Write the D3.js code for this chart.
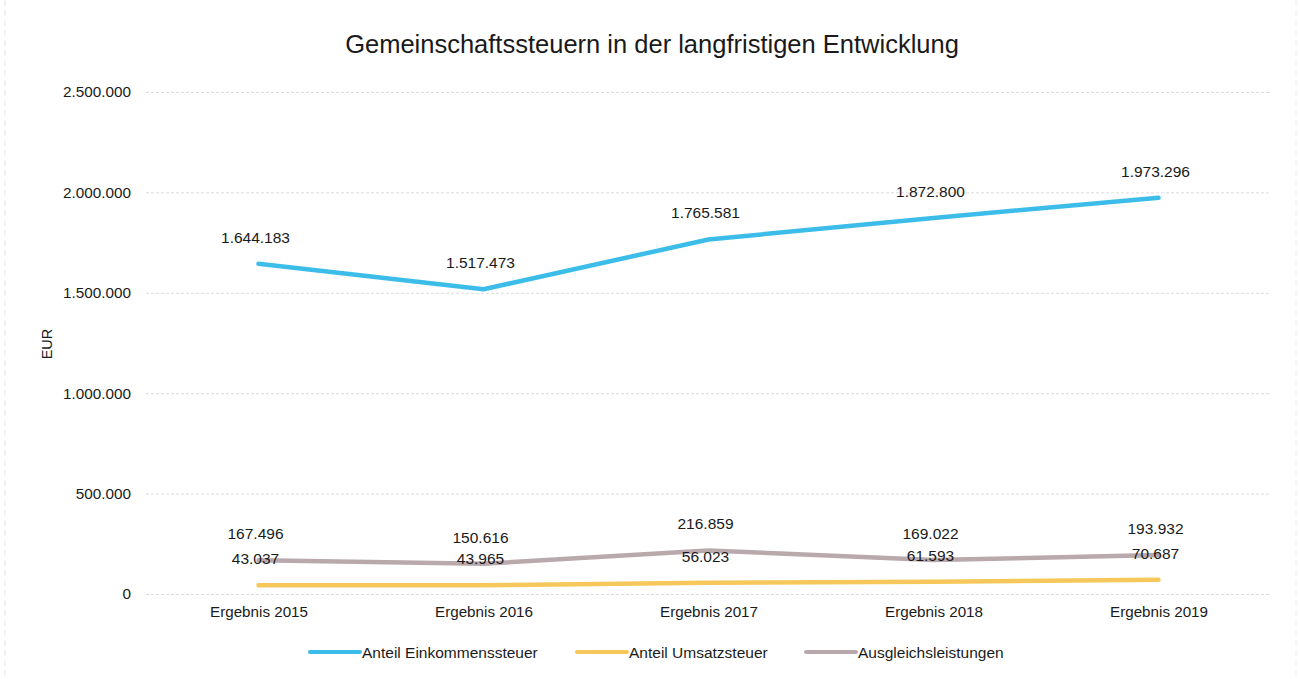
<!DOCTYPE html>
<html><head><meta charset="utf-8">
<script src="https://cdn.jsdelivr.net/npm/d3@7"></script>
<style>
html,body{margin:0;padding:0;background:#fff;}
svg{display:block;font-family:"Liberation Sans",Arial,sans-serif;}
</style></head>
<body><svg id="c" width="1300" height="679"></svg>
<script>
const categories = ["Ergebnis 2015","Ergebnis 2016","Ergebnis 2017","Ergebnis 2018","Ergebnis 2019"];
const seriesNames = ["Anteil Einkommenssteuer","Anteil Umsatzsteuer","Ausgleichsleistungen"];
const einkommen = [1644183,1517473,1765581,1872800,1973296];
const umsatz = [43037,43965,56023,61593,70687];
const ausgleich = [167496,150616,216859,169022,193932];
const yTicks = [0,500000,1000000,1500000,2000000,2500000];
const colors = ["#3cbde9","#f6c85b","#b9a9ac"];

(function(){
const series = [
  {name: seriesNames[0], values: einkommen, color: colors[0]},
  {name: seriesNames[1], values: umsatz, color: colors[1]},
  {name: seriesNames[2], values: ausgleich, color: colors[2]}
];
const loc = d3.formatLocale({decimal:",", thousands:".", grouping:[3], currency:["","€"]});
const fmt = loc.format(",d");

const svg = d3.select("#c");
const pL = 146, pR = 1271, pT = 92, pB = 594;
const x = d3.scalePoint().domain(categories).range([pL, pR]).padding(0.5);
const y = d3.scaleLinear().domain([0,2500000]).range([pB, pT]);

// faint page borders
svg.append("line").attr("x1",5).attr("x2",5).attr("y1",0).attr("y2",679)
  .attr("stroke","#e4e4e4").attr("stroke-dasharray","6,4");
svg.append("line").attr("x1",1296).attr("x2",1296).attr("y1",0).attr("y2",679)
  .attr("stroke","#ececec").attr("stroke-dasharray","6,4");

// title
svg.append("text").attr("x",652).attr("y",53).attr("text-anchor","middle")
  .attr("font-size",25.5).attr("fill","#1a1a1a")
  .text("Gemeinschaftssteuern in der langfristigen Entwicklung");

// gridlines + y axis
const yAxis = d3.axisLeft(y).tickValues(yTicks).tickFormat(fmt).tickSize(-(pR-pL)).tickPadding(15);
const gy = svg.append("g").attr("transform",`translate(${pL},0)`).call(yAxis);
gy.select(".domain").remove();
gy.selectAll(".tick line").attr("stroke","#dcdcdc").attr("stroke-dasharray","3,2");
gy.selectAll(".tick text").attr("font-size",15.3).attr("fill","#1a1a1a")
  .attr("font-family","Liberation Sans, Arial, sans-serif");

// y axis title
svg.append("text").attr("transform","translate(52,344) rotate(-90)")
  .attr("text-anchor","middle").attr("font-size",14.5).attr("fill","#1a1a1a").text("EUR");

// x axis
const xAxis = d3.axisBottom(x).tickSize(0).tickPadding(12);
const gx = svg.append("g").attr("transform",`translate(0,${pB})`).call(xAxis);
gx.select(".domain").remove();
gx.selectAll(".tick text").attr("font-size",15.2).attr("fill","#1a1a1a")
  .attr("font-family","Liberation Sans, Arial, sans-serif");

// lines
const line = d3.line().x((d,i)=>x(categories[i])).y(d=>y(d));
[1,2,0].forEach(si=>{
  const s = series[si];
  svg.append("path").datum(s.values).attr("d",line)
    .attr("fill","none").attr("stroke",s.color).attr("stroke-width",4.5)
    .attr("stroke-linecap","round").attr("stroke-linejoin","round");
});

// data labels
series.forEach(s=>{
  svg.append("g").selectAll("text").data(s.values).join("text")
    .attr("x",(d,i)=>x(categories[i]) - 3)
    .attr("y",d=>y(d)-21)
    .attr("text-anchor","middle").attr("font-size",15.5).attr("fill","#1a1a1a")
    .text(d=>fmt(d));
});

// legend
const legendX = [310, 577, 806];
series.forEach((s,i)=>{
  const g = svg.append("g").attr("transform",`translate(${legendX[i]},652)`);
  g.append("line").attr("x1",0).attr("x2",50).attr("y1",0).attr("y2",0)
    .attr("stroke",s.color).attr("stroke-width",4).attr("stroke-linecap","round");
  g.append("text").attr("x",52).attr("y",5.5).attr("font-size",15.5).attr("fill","#1a1a1a").text(s.name);
});
})();
</script></body></html>
